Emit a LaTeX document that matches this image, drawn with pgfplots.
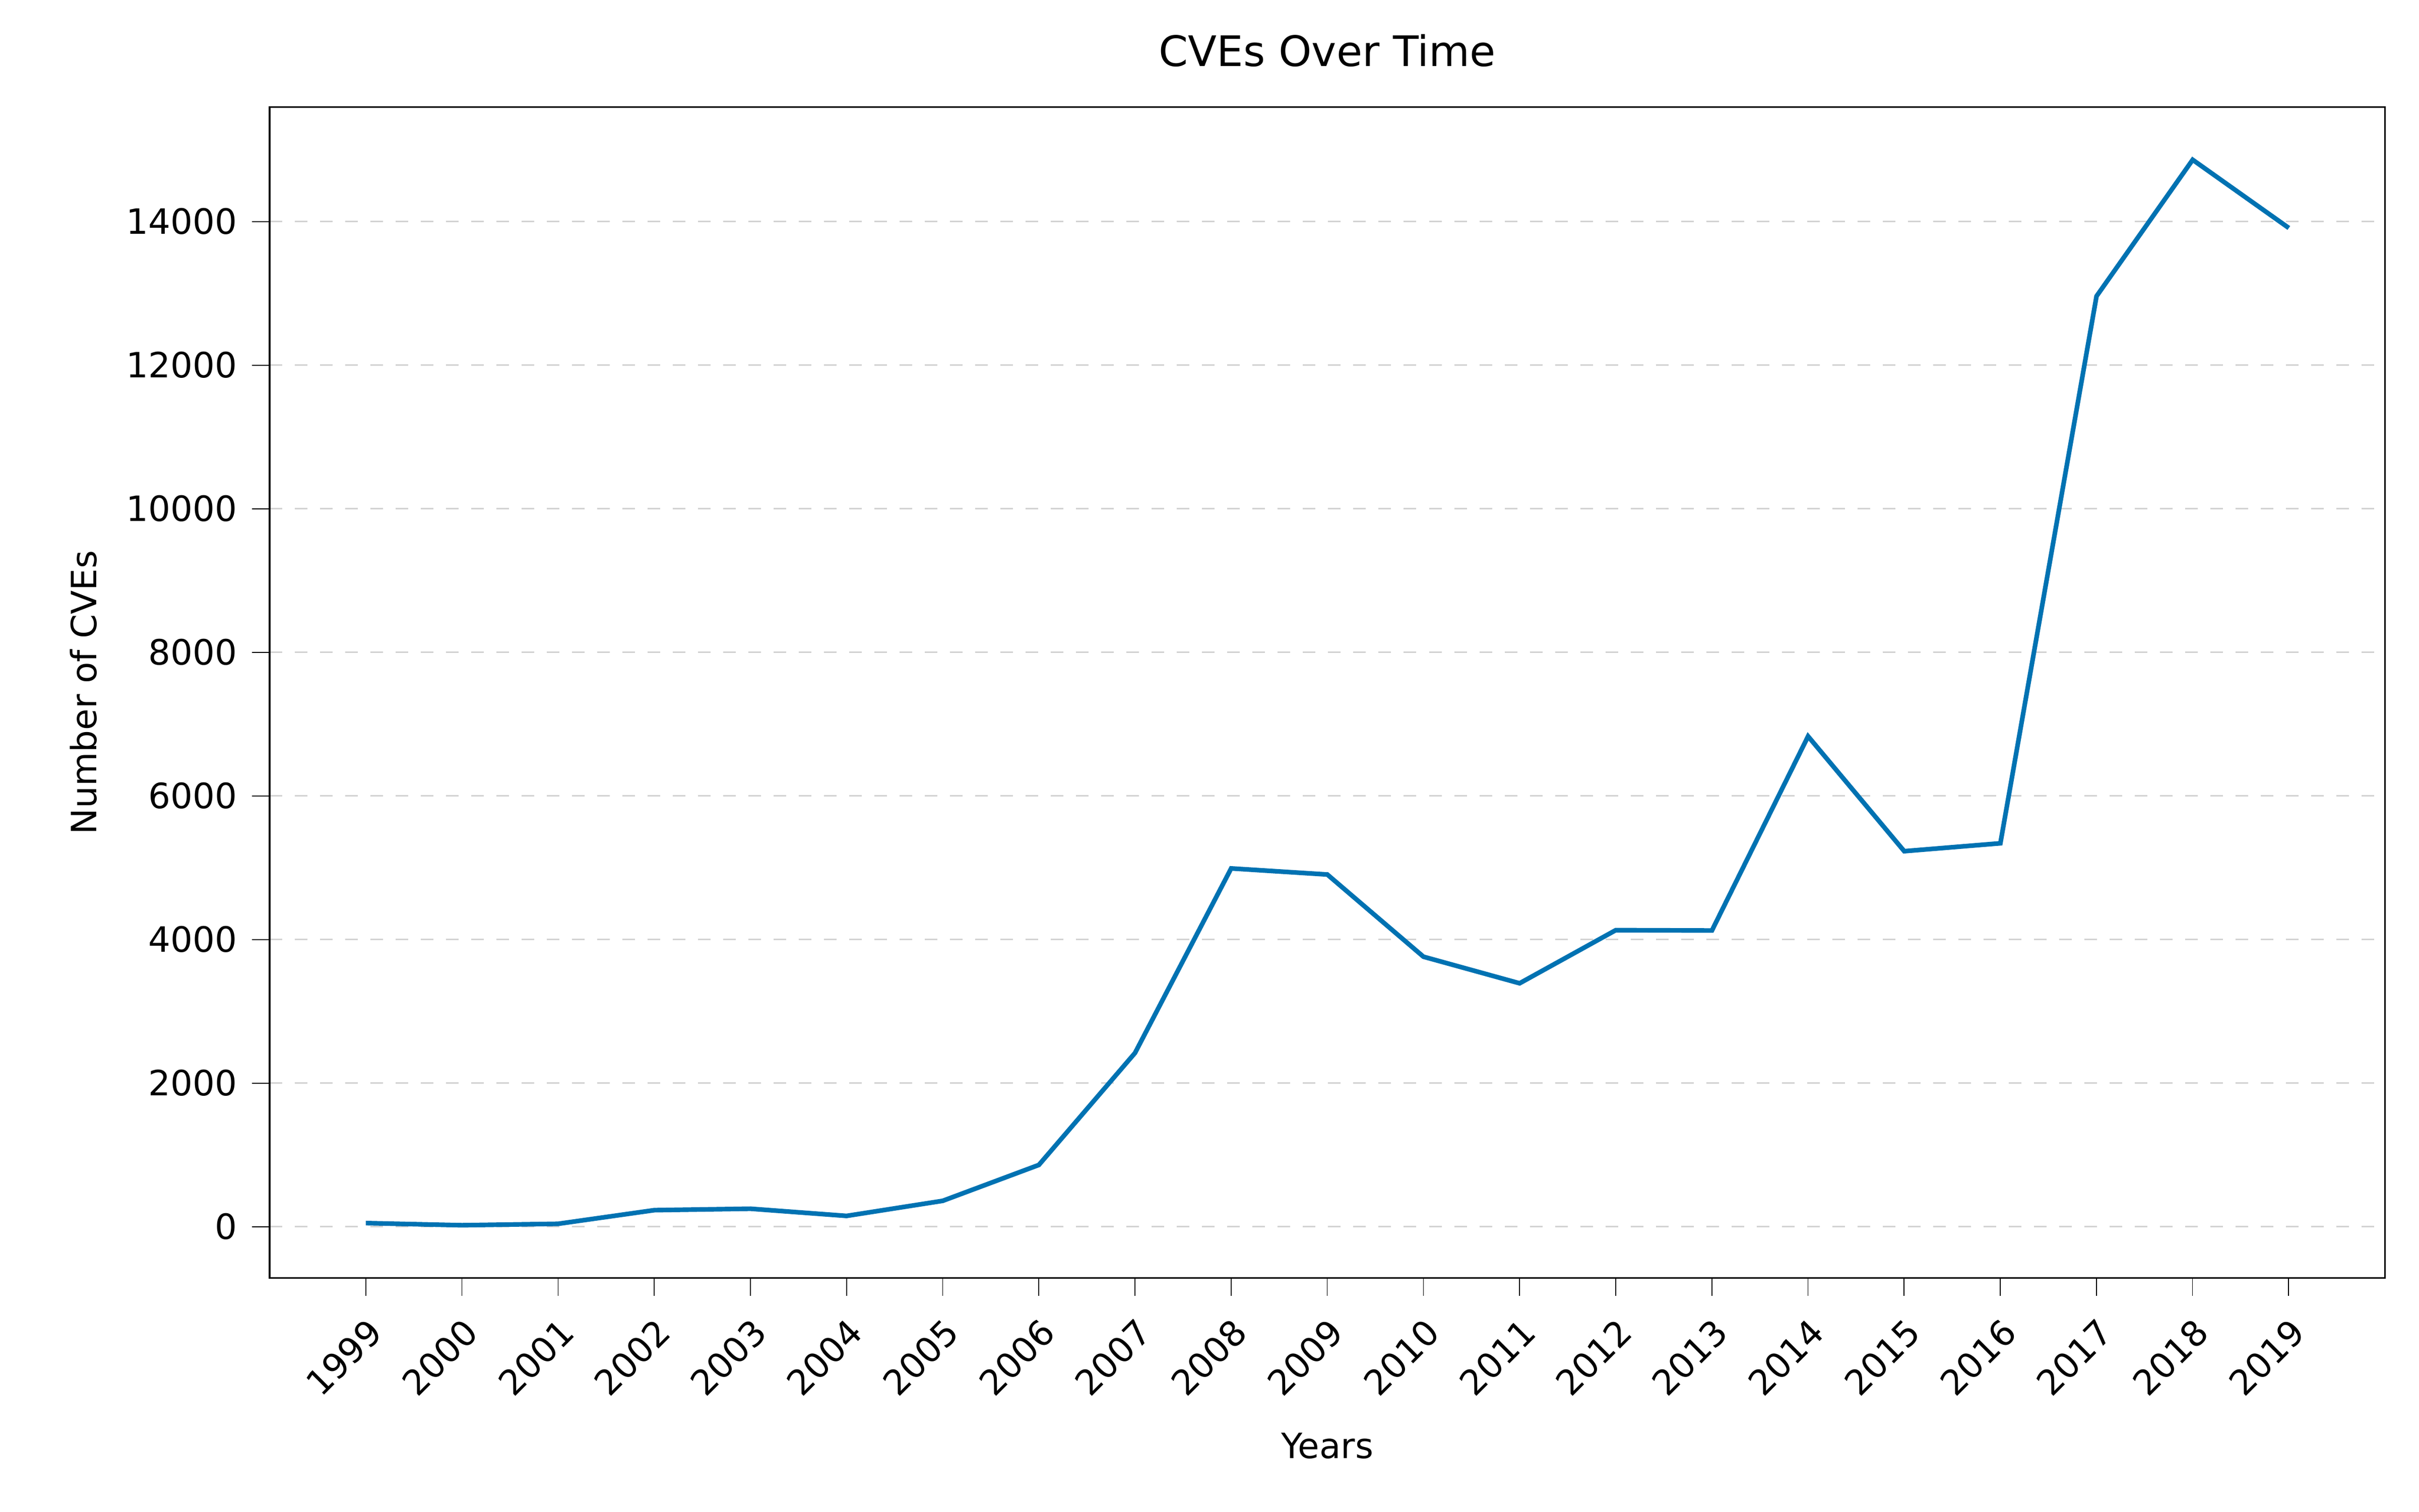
\documentclass[border=0pt]{standalone}
\usepackage{pgfplots}
\pgfplotsset{compat=1.18}
\usepackage{fontspec}
\setmainfont{DejaVu Sans}
\definecolor{line}{RGB}{0,114,178}
\begin{document}
\begin{tikzpicture}
\path (-64.2pt,-55.7pt) rectangle (511.7pt,304.3pt);
\begin{axis}[at={(0,0)},anchor=south west,scale only axis,
width=503.6pt,height=278.8pt,
xmin=1998,xmax=2020,ymin=-713,ymax=15594,
xtick={1999,...,2019},
xticklabel style={rotate=45,anchor=north east,/pgf/number format/1000 sep={}},
ytick={0,2000,...,14000},
scaled y ticks=false,
yticklabel style={/pgf/number format/1000 sep={}},
/pgf/number format/assume math mode=true,
tick label style={font=\fontsize{8.3}{10}\selectfont},
label style={font=\fontsize{8.3}{10}\selectfont},
title style={font=\fontsize{10}{12}\selectfont},
tick style={black},tick align=outside,
xtick pos=bottom,ytick pos=left,
ymajorgrids,grid style={dashed,gray!35},
title={CVEs Over Time},
xlabel={Years},ylabel={Number of CVEs},
]
\addplot[line,line width=1.1pt,no marks] coordinates {
(1999,50)(2000,20)(2001,40)(2002,230)(2003,250)(2004,150)(2005,360)(2006,860)
(2007,2420)(2008,4990)(2009,4905)(2010,3760)(2011,3390)(2012,4130)(2013,4125)
(2014,6830)(2015,5230)(2016,5340)(2017,12960)(2018,14860)(2019,13910)};
\end{axis}
\end{tikzpicture}
\end{document}
